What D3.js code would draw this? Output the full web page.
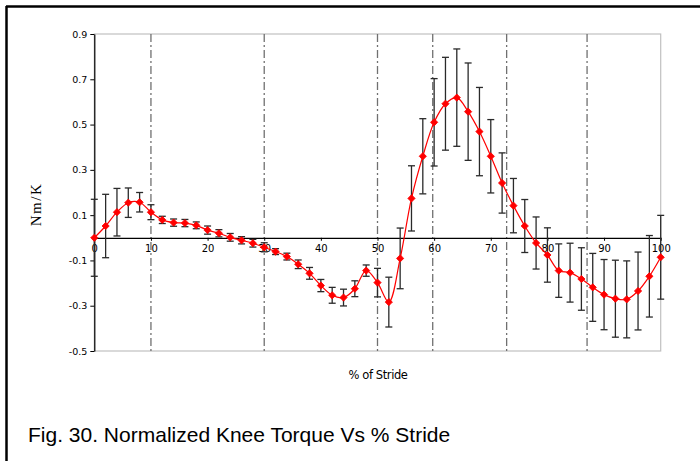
<!DOCTYPE html>
<html>
<head>
<meta charset="utf-8">
<script src="https://cdn.jsdelivr.net/npm/d3@7"></script>
<style>
  html, body { margin: 0; padding: 0; background: #fff; }
  svg { display: block; }
</style>
</head>
<body>
<svg id="chart" width="700" height="461"></svg>
<script>
// Percent of stride at which each sample was taken
const stride = [0, 2, 4, 6, 8, 10, 12, 14, 16, 18, 20, 22, 24, 26, 28, 30, 32, 34, 36, 38, 40,
  42, 44, 46, 48, 50, 52, 54, 56, 58, 60, 62, 64, 66, 68, 70, 72, 74, 76, 78, 80,
  82, 84, 86, 88, 90, 92, 94, 96, 98, 100];

// Mean normalized knee torque (Nm/K)
const torque = [0, 0.052, 0.113, 0.155, 0.157, 0.113, 0.079, 0.067, 0.065, 0.055, 0.034,
  0.020, 0.002, -0.011, -0.024, -0.042, -0.061, -0.083, -0.117, -0.157, -0.211,
  -0.254, -0.264, -0.225, -0.145, -0.198, -0.284, -0.091, 0.174, 0.360, 0.510,
  0.592, 0.619, 0.557, 0.469, 0.360, 0.242, 0.142, 0.052, -0.023, -0.076,
  -0.145, -0.154, -0.182, -0.219, -0.251, -0.269, -0.272, -0.235, -0.170, -0.086];

// Standard deviation at each sample
const spread = [0.170, 0.140, 0.105, 0.065, 0.043, 0.033, 0.016, 0.016, 0.016, 0.015, 0.018,
  0.016, 0.017, 0.016, 0.017, 0.020, 0.013, 0.015, 0.019, 0.026, 0.027,
  0.035, 0.037, 0.035, 0.025, 0.063, 0.110, 0.134, 0.144, 0.166, 0.193,
  0.205, 0.215, 0.215, 0.195, 0.162, 0.133, 0.120, 0.117, 0.115, 0.120,
  0.118, 0.130, 0.138, 0.150, 0.155, 0.170, 0.170, 0.172, 0.180, 0.185];

// Gait phase boundaries (% of stride)
const phaseMarks = [10, 30, 50, 59.75, 72.8, 87];

// Axis ticks
const yTicks = [-0.5, -0.3, -0.1, 0.1, 0.3, 0.5, 0.7, 0.9];
const xTicks = [0, 10, 20, 30, 40, 50, 60, 70, 80, 90, 100];

const svg = d3.select("#chart");

const x = d3.scaleLinear().domain([0, 100]).range([94.3, 660.7]);
const y = d3.scaleLinear().domain([-0.5, 0.9]).range([351, 34]);

// Page frame (top and left edges)
svg.append("line").attr("x1", 6).attr("x2", 700).attr("y1", 6.5).attr("y2", 6.5)
  .attr("stroke", "#000").attr("stroke-width", 2.5);
svg.append("line").attr("x1", 6.5).attr("x2", 6.5).attr("y1", 6).attr("y2", 461)
  .attr("stroke", "#000").attr("stroke-width", 2.5);

// Plot area border
svg.append("rect")
  .attr("x", x(0)).attr("y", y(0.9))
  .attr("width", x(100) - x(0)).attr("height", y(-0.5) - y(0.9))
  .attr("fill", "none").attr("stroke", "#c0c0c0").attr("stroke-width", 1.2);

// Phase boundary lines
svg.append("g").selectAll("line").data(phaseMarks).join("line")
  .attr("x1", d => x(d)).attr("x2", d => x(d))
  .attr("y1", y(0.9)).attr("y2", y(-0.5))
  .attr("stroke", "#707070").attr("stroke-width", 1.3)
  .attr("stroke-dasharray", "8,3,2,3");

// Y axis (plain hyphen for negative labels)
const fmt1 = d3.format(".1f");
const yAxis = svg.append("g")
  .attr("transform", `translate(${x(0)},0)`)
  .call(d3.axisLeft(y).tickValues(yTicks).tickSize(4).tickSizeOuter(0)
    .tickFormat(d => fmt1(d).replace("\u2212", "-")));
yAxis.select(".domain").attr("stroke", "#000").attr("stroke-width", 1.2);
yAxis.selectAll(".tick line").attr("stroke", "#000");
yAxis.selectAll("text")
  .attr("font-family", "DejaVu Sans, Verdana, sans-serif")
  .attr("font-size", 9.5).attr("fill", "#000").attr("x", -7);

// X axis along zero
const xAxis = svg.append("g")
  .attr("transform", `translate(0,${y(0)})`)
  .call(d3.axisBottom(x).tickValues(xTicks).tickSize(3).tickSizeOuter(0)
    .tickFormat(d3.format("d")));
xAxis.select(".domain").attr("stroke", "#000").attr("stroke-width", 1.2);
xAxis.selectAll(".tick line").attr("stroke", "#000");
xAxis.selectAll("text")
  .attr("font-family", "DejaVu Sans, Verdana, sans-serif")
  .attr("font-size", 10).attr("fill", "#000").attr("y", 7);

// Error bars
const rows = stride.map((s, i) => ({ s, v: torque[i], e: spread[i] }));
const eb = svg.append("g").attr("stroke", "#2a2a2a").attr("stroke-width", 1.3);
eb.selectAll(".stem").data(rows).join("line").attr("class", "stem")
  .attr("x1", d => x(d.s)).attr("x2", d => x(d.s))
  .attr("y1", d => y(d.v + d.e)).attr("y2", d => y(d.v - d.e));
eb.selectAll(".capTop").data(rows).join("line").attr("class", "capTop")
  .attr("x1", d => x(d.s) - 3.5).attr("x2", d => x(d.s) + 3.5)
  .attr("y1", d => y(d.v + d.e)).attr("y2", d => y(d.v + d.e));
eb.selectAll(".capBot").data(rows).join("line").attr("class", "capBot")
  .attr("x1", d => x(d.s) - 3.5).attr("x2", d => x(d.s) + 3.5)
  .attr("y1", d => y(d.v - d.e)).attr("y2", d => y(d.v - d.e));

// Smoothed mean curve
const line = d3.line().x(d => x(d.s)).y(d => y(d.v)).curve(d3.curveCatmullRom.alpha(0.5));
svg.append("path").datum(rows)
  .attr("d", line).attr("fill", "none")
  .attr("stroke", "#ff0000").attr("stroke-width", 1.2);

// Diamond markers
const diamond = d3.symbol().type(d3.symbolSquare).size(26);
svg.append("g").selectAll("path").data(rows).join("path")
  .attr("d", diamond)
  .attr("transform", d => `translate(${x(d.s)},${y(d.v)}) rotate(45)`)
  .attr("fill", "#ff0000").attr("stroke", "#ff0000").attr("stroke-width", 0.8);

// Axis titles
svg.append("text")
  .attr("transform", `translate(41,${(y(0.9) + y(-0.5)) / 2 + 12}) rotate(-90)`)
  .attr("text-anchor", "middle")
  .attr("font-family", "Liberation Serif, Times New Roman, serif")
  .attr("font-size", 15).attr("letter-spacing", 1.5)
  .text("Nm/K");

svg.append("text")
  .attr("x", 378).attr("y", 379)
  .attr("text-anchor", "middle")
  .attr("font-family", "DejaVu Sans, Verdana, sans-serif")
  .attr("font-size", 11.5).attr("letter-spacing", -0.4)
  .text("% of Stride");

// Caption
svg.append("text")
  .attr("x", 28).attr("y", 442)
  .attr("font-family", "Liberation Sans, Arial, sans-serif")
  .attr("font-size", 21)
  .text("Fig. 30. Normalized Knee Torque Vs % Stride");
</script>
</body>
</html>
